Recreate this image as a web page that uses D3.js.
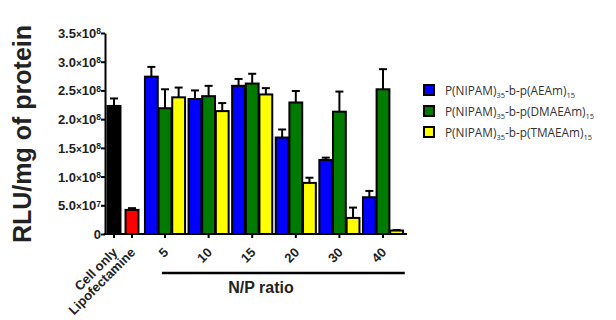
<!DOCTYPE html>
<html lang="en">
<head>
<meta charset="UTF-8">
<title>RLU per mg of protein</title>
<style>
  body {
    margin: 0;
    background: #fff;
    font-family: "Liberation Sans", Arial, sans-serif;
  }
  .tick text {
    font-weight: bold;
    fill: #222;
  }
  .legend text {
    font-family: "Open Sans", "Liberation Sans", sans-serif;
    font-size: 11.8px;
    fill: #333;
  }
</style>
</head>
<body>
<div id="chart"></div>
<script src="https://cdn.jsdelivr.net/npm/d3@7/dist/d3.min.js"></script>
<script>
  // controls
  var controls = ["Cell only", "Lipofectamine"];
  var controlValues = [2.23e8, 0.42e8];
  var controlErrors = [0.13e8, 0.03e8];
  var controlColors = ["#000000", "#ff0000"];

  // N/P ratio groups
  var ratios = ["5", "10", "15", "20", "30", "40"];
  var seriesNames = ["AEAm", "DMAEAm", "TMAEAm"];
  var aeamValues   = [2.74e8, 2.35e8, 2.58e8, 1.68e8, 1.29e8, 0.64e8];
  var aeamErrors   = [0.17e8, 0.15e8, 0.12e8, 0.14e8, 0.04e8, 0.11e8];
  var dmaeamValues = [2.19e8, 2.40e8, 2.62e8, 2.29e8, 2.13e8, 2.52e8];
  var dmaeamErrors = [0.33e8, 0.18e8, 0.17e8, 0.20e8, 0.35e8, 0.35e8];
  var tmaeamValues = [2.38e8, 2.14e8, 2.43e8, 0.89e8, 0.28e8, 0.06e8];
  var tmaeamErrors = [0.17e8, 0.14e8, 0.11e8, 0.09e8, 0.18e8, 0.01e8];
  var seriesColors = ["#0000ff", "#007a00", "#ffff00"];

  var yTicks = [0, 0.5e8, 1.0e8, 1.5e8, 2.0e8, 2.5e8, 3.0e8, 3.5e8];

  var width = 616, height = 320;

  var svg = d3.select("#chart").append("svg")
      .attr("width", width)
      .attr("height", height);

  var y = d3.scaleLinear()
      .domain([0, 3.5e8])
      .range([234, 33]);

  var xCtrl = d3.scaleBand()
      .domain(controls)
      .range([105, 141])
      .paddingInner(0.28)
      .paddingOuter(0.14);

  var xGroup = d3.scaleBand()
      .domain(ratios)
      .range([143.2, 404.8])
      .paddingInner(0.08)
      .paddingOuter(0.04);

  var xSub = d3.scaleBand()
      .domain(seriesNames)
      .range([0, xGroup.bandwidth()])
      .paddingInner(0.06);

  var seriesValues = [aeamValues, dmaeamValues, tmaeamValues];
  var seriesErrors = [aeamErrors, dmaeamErrors, tmaeamErrors];

  var bars = [];
  controls.forEach(function(c, i) {
    bars.push({ x: xCtrl(c), w: xCtrl.bandwidth(), v: controlValues[i], e: controlErrors[i], color: controlColors[i] });
  });
  ratios.forEach(function(r, gi) {
    seriesNames.forEach(function(s, si) {
      bars.push({
        x: xGroup(r) + xSub(s), w: xSub.bandwidth(),
        v: seriesValues[si][gi], e: seriesErrors[si][gi], color: seriesColors[si]
      });
    });
  });

  // error bars (upper only)
  var eb = svg.append("g").attr("stroke", "#000").attr("stroke-width", 2);
  eb.selectAll("line.stem")
      .data(bars)
    .enter().append("line")
      .attr("x1", function(d) { return d.x + d.w / 2; })
      .attr("x2", function(d) { return d.x + d.w / 2; })
      .attr("y1", function(d) { return y(d.v); })
      .attr("y2", function(d) { return y(d.v + d.e); });
  eb.selectAll("line.cap")
      .data(bars)
    .enter().append("line")
      .attr("x1", function(d) { return d.x + d.w / 2 - 4; })
      .attr("x2", function(d) { return d.x + d.w / 2 + 4; })
      .attr("y1", function(d) { return y(d.v + d.e); })
      .attr("y2", function(d) { return y(d.v + d.e); });

  svg.append("g").selectAll("rect")
      .data(bars)
    .enter().append("rect")
      .attr("x", function(d) { return d.x; })
      .attr("y", function(d) { return y(d.v); })
      .attr("width", function(d) { return d.w; })
      .attr("height", function(d) { return y(0) - y(d.v); })
      .attr("fill", function(d) { return d.color; })
      .attr("stroke", "#000")
      .attr("stroke-width", 2);

  // y axis
  var yAxis = svg.append("g")
      .attr("transform", "translate(105,0)")
      .call(d3.axisLeft(y).tickValues(yTicks).tickSize(4).tickSizeOuter(0).tickFormat(function() { return ""; }));
  yAxis.select(".domain").attr("stroke-width", 2);
  yAxis.selectAll(".tick line").attr("stroke-width", 2);
  yAxis.selectAll(".tick text").remove();
  yAxis.selectAll(".tick").append("text")
      .attr("x", -4)
      .attr("dy", "0.35em")
      .attr("text-anchor", "end")
      .style("font-size", "13px")
      .each(function(d) {
        var t = d3.select(this);
        if (d === 0) { t.text("0"); return; }
        var exp = Math.floor(Math.log10(d));
        t.append("tspan").text((d / Math.pow(10, exp)).toFixed(1));
        t.append("tspan").style("font-size", "10px").text("\u00d7");
        t.append("tspan").text("10");
        t.append("tspan").attr("dy", "-0.45em").style("font-size", "8.5px").text(exp);
      });

  // x axis
  var ticksX = controls.map(function(c) { return { pos: xCtrl(c) + xCtrl.bandwidth() / 2, label: c }; })
      .concat(ratios.map(function(r) { return { pos: xGroup(r) + xGroup.bandwidth() / 2, label: r }; }));

  svg.append("line")
      .attr("x1", 104).attr("x2", 407)
      .attr("y1", y(0)).attr("y2", y(0))
      .attr("stroke", "#000").attr("stroke-width", 2);

  var xt = svg.append("g").selectAll("g")
      .data(ticksX)
    .enter().append("g")
      .attr("class", "tick")
      .attr("transform", function(d) { return "translate(" + d.pos + "," + y(0) + ")"; });
  xt.append("line").attr("y2", 4).attr("stroke", "#000").attr("stroke-width", 2);
  xt.append("text")
      .attr("transform", "translate(1,16) rotate(-45)")
      .attr("text-anchor", "end")
      .attr("dy", "0.35em")
      .style("font-size", "13px")
      .text(function(d) { return d.label; });

  // N/P ratio bracket
  svg.append("line")
      .attr("x1", xGroup(ratios[0]) + 17).attr("x2", xGroup.range()[1])
      .attr("y1", 273).attr("y2", 273)
      .attr("stroke", "#000").attr("stroke-width", 2.5);
  svg.append("text")
      .attr("x", 261).attr("y", 293)
      .attr("text-anchor", "middle")
      .style("font-size", "16px").style("font-weight", "bold").style("fill", "#222")
      .text("N/P ratio");

  // y title
  svg.append("text")
      .attr("transform", "translate(31,134) rotate(-90)")
      .attr("text-anchor", "middle")
      .style("font-size", "25px").style("font-weight", "bold").style("fill", "#222")
      .text("RLU/mg of protein");

  // legend
  var legendNames = ["AEAm", "DMAEAm", "TMAEAm"];
  var legend = svg.append("g").attr("class", "legend")
      .selectAll("g")
      .data(legendNames)
    .enter().append("g")
      .attr("transform", function(d, i) { return "translate(424," + (85 + i * 21) + ")"; });
  legend.append("rect")
      .attr("width", 10).attr("height", 10)
      .attr("fill", function(d, i) { return seriesColors[i]; })
      .attr("stroke", "#000").attr("stroke-width", 2);
  var lt = legend.append("text")
      .attr("x", 21).attr("y", 9.5);
  lt.append("tspan").text("P(NIPAM)");
  lt.append("tspan").attr("dy", 3).style("font-size", "7.5px").text("35");
  lt.append("tspan").attr("dy", -3).text("-b-p(");
  lt.append("tspan").text(function(d) { return d + ")"; });
  lt.append("tspan").attr("dy", 3).style("font-size", "7.5px").text("15");
</script>
</body>
</html>
